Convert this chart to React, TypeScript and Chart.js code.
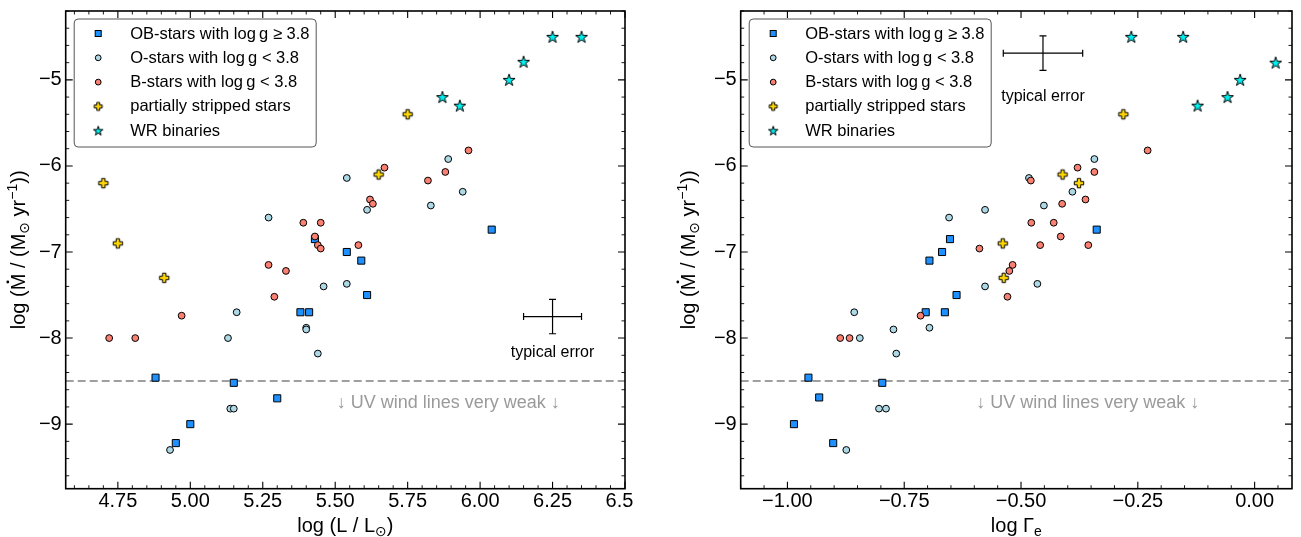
import React, { useEffect, useRef } from 'react';
import { Chart, registerables } from 'chart.js';

Chart.register(...registerables);

const FONT = '"Liberation Sans", "DejaVu Sans", Arial, sans-serif';

// ---------------- Left panel: log(L/Lsun) ----------------
const OB_LOGL = [4.88, 5.15, 5.30, 5.00, 4.95, 5.43, 5.38, 5.41, 5.54, 5.59, 5.61, 6.04];
const OB_MDOT_L = [-8.46, -8.52, -8.70, -9.00, -9.22, -6.85, -7.70, -7.70, -7.00, -7.10, -7.50, -6.74];
const O_LOGL = [4.93, 5.138, 5.15, 5.13, 5.16, 5.27, 5.40, 5.40, 5.44, 5.46, 5.54, 5.54, 5.61, 5.83, 5.89, 5.94];
const O_MDOT_L = [-9.30, -8.82, -8.82, -8.00, -7.70, -6.60, -7.88, -7.90, -8.18, -7.40, -7.37, -6.14, -6.51, -6.46, -5.92, -6.30];
const B_LOGL = [4.72, 4.81, 4.97, 5.27, 5.33, 5.29, 5.39, 5.45, 5.43, 5.44, 5.45, 5.58, 5.67, 5.62, 5.63, 5.82, 5.88, 5.96];
const B_MDOT_L = [-8.00, -8.00, -7.74, -7.15, -7.22, -7.52, -6.66, -6.66, -6.82, -6.92, -6.96, -6.92, -6.02, -6.39, -6.44, -6.17, -6.07, -5.82];
const PS_LOGL = [4.70, 4.75, 4.91, 5.65, 5.75];
const PS_MDOT_L = [-6.20, -6.90, -7.30, -6.10, -5.40];
const WR_LOGL = [6.25, 6.35, 6.15, 6.10, 5.87, 5.93];
const WR_MDOT_L = [-4.50, -4.50, -4.79, -5.00, -5.20, -5.30];

// ---------------- Right panel: log Gamma_e ----------------
const OB_LOGG = [-0.955, -0.932, -0.986, -0.902, -0.797, -0.704, -0.696, -0.669, -0.652, -0.663, -0.638, -0.338];
const OB_MDOT_R = [-8.46, -8.69, -9.00, -9.22, -8.52, -7.70, -7.10, -7.00, -6.85, -7.70, -7.50, -6.74];
const O_LOGG = [-0.874, -0.804, -0.789, -0.845, -0.857, -0.773, -0.767, -0.696, -0.654, -0.577, -0.577, -0.483, -0.390, -0.451, -0.343, -0.465];
const O_MDOT_R = [-9.30, -8.82, -8.82, -8.00, -7.70, -7.90, -8.18, -7.88, -6.60, -6.51, -7.40, -6.14, -6.30, -6.46, -5.92, -7.37];
const B_LOGG = [-0.887, -0.867, -0.715, -0.518, -0.525, -0.529, -0.478, -0.430, -0.415, -0.459, -0.356, -0.589, -0.379, -0.362, -0.412, -0.479, -0.343, -0.229];
const B_MDOT_R = [-8.00, -8.00, -7.74, -7.15, -7.22, -7.52, -6.66, -6.66, -6.82, -6.92, -6.92, -6.96, -6.02, -6.39, -6.44, -6.17, -6.07, -5.82];
const PS_LOGG = [-0.539, -0.537, -0.411, -0.376, -0.281];
const PS_MDOT_R = [-6.90, -7.30, -6.10, -6.20, -5.40];
const WR_LOGG = [-0.264, -0.153, 0.045, -0.031, -0.058, -0.122];
const WR_MDOT_R = [-4.50, -4.50, -4.80, -5.00, -5.20, -5.30];

// ---------------- Axes ----------------
const Y_RANGE = [-9.75, -4.2];
const Y_TICKS = [-9, -8, -7, -6, -5];
const X_RANGE_L = [4.57, 6.5];
const X_TICKS_L = [4.75, 5.0, 5.25, 5.5, 5.75, 6.0, 6.25, 6.5];
const X_RANGE_R = [-1.1, 0.08];
const X_TICKS_R = [-1.0, -0.75, -0.5, -0.25, 0.0];

const LEGEND_LABELS = [
  'OB-stars with log\u2009g \u2265 3.8',
  'O-stars with log\u2009g < 3.8',
  'B-stars with log\u2009g < 3.8',
  'partially stripped stars',
  'WR binaries',
];
const WEAK_LIMIT = -8.5;
const UV_TEXT = '\u2193 UV wind lines very weak \u2193';
const UV_Y = -8.75;
const UV_X_L = 5.89;
const UV_X_R = -0.357;
// typical error: [x, y, xerr, yerr, textY]
const ERR_L = [6.25, -7.75, 0.1, 0.2, -8.17];
const ERR_R = [-0.453, -4.69, 0.085, 0.2, -5.19];

const C_OB = '#1E90FF';
const C_O = '#ADD8E6';
const C_B = '#FA8072';
const C_PS = '#FFD700';
const C_WR = '#00F0F0';

function starPath(ctx: CanvasRenderingContext2D, cx: number, cy: number, R: number) {
  const r = R * 0.382;
  ctx.beginPath();
  for (let i = 0; i < 10; i++) {
    const a = -Math.PI / 2 + (i * Math.PI) / 5;
    const rr = i % 2 ? r : R;
    ctx.lineTo(cx + rr * Math.cos(a), cy + rr * Math.sin(a));
  }
  ctx.closePath();
}
function plusPath(ctx: CanvasRenderingContext2D, cx: number, cy: number, h: number, t: number) {
  const pts = [[-t, -h], [t, -h], [t, -t], [h, -t], [h, t], [t, t], [t, h], [-t, h], [-t, t], [-h, t], [-h, -t], [-t, -t]];
  ctx.beginPath();
  pts.forEach(([px, py], i) => (i ? ctx.lineTo(cx + px, cy + py) : ctx.moveTo(cx + px, cy + py)));
  ctx.closePath();
}
function makeMarker(kind: 'star' | 'plus', fill: string, s: number): HTMLCanvasElement {
  const c = document.createElement('canvas');
  const size = 18;
  c.width = size;
  c.height = size;
  const ctx = c.getContext('2d')!;
  if (kind === 'star') starPath(ctx, size / 2, size / 2 + 0.5 * s, 6.3 * s);
  else plusPath(ctx, size / 2, size / 2, 4.7 * s, 1.7 * s);
  ctx.fillStyle = fill;
  ctx.fill();
  ctx.lineWidth = 1;
  ctx.lineJoin = 'miter';
  ctx.strokeStyle = '#000';
  ctx.stroke();
  return c;
}

type Part = { t: string; k?: 'sub' | 'sup' | 'dot' };
function drawRich(ctx: CanvasRenderingContext2D, parts: Part[], fs: number) {
  const small = fs * 0.7;
  ctx.textAlign = 'left';
  ctx.textBaseline = 'alphabetic';
  const ws = parts.map((p) => {
    ctx.font = `${p.k === 'sub' || p.k === 'sup' ? small : fs}px ${FONT}`;
    return ctx.measureText(p.t).width;
  });
  const total = ws.reduce((a, b) => a + b, 0);
  let cx = -total / 2;
  parts.forEach((p, i) => {
    const sz = p.k === 'sub' || p.k === 'sup' ? small : fs;
    ctx.font = `${sz}px ${FONT}`;
    const dy = p.k === 'sub' ? fs * 0.22 : p.k === 'sup' ? -fs * 0.42 : 0;
    ctx.fillText(p.t, cx, dy);
    if (p.k === 'dot') {
      ctx.beginPath();
      ctx.arc(cx + ws[i] / 2, -fs * 0.86, fs * 0.07, 0, Math.PI * 2);
      ctx.fill();
    }
    cx += ws[i];
  });
}

const Y_TITLE: Part[] = [
  { t: 'log (' }, { t: 'M', k: 'dot' }, { t: ' / (M' }, { t: '\u2299', k: 'sub' }, { t: ' yr' }, { t: '\u22121', k: 'sup' }, { t: '))' },
];
const X_TITLE_L: Part[] = [{ t: 'log (L / L' }, { t: '\u2299', k: 'sub' }, { t: ')' }];
const X_TITLE_R: Part[] = [{ t: 'log \u0393' }, { t: 'e', k: 'sub' }];

type PanelCfg = {
  id: string;
  cl: number;
  cw: number;
  yAxisW: number;
  padRight: number;
  xRange: number[];
  xTicks: number[];
  xs: number[][];
  ys: number[][];
  uvX: number;
  err: number[];
  xTitle: Part[];
  yTitleX: number;
};

const fmt = (v: number, d: number) => (v < 0 ? '\u2212' : '') + Math.abs(v).toFixed(d);

function buildConfig(p: PanelCfg): any {
  const starImg = makeMarker('star', C_WR, 1);
  const plusImg = makeMarker('plus', C_PS, 1);
  const starLeg = makeMarker('star', C_WR, 0.78);
  const plusLeg = makeMarker('plus', C_PS, 0.85);
  const mk = (i: number) => p.xs[i].map((x, j) => ({ x, y: p.ys[i][j] }));
  const datasets = [
    { label: LEGEND_LABELS[4], data: mk(4), pointStyle: starImg, pointRadius: 7, backgroundColor: C_WR, borderColor: '#000', borderWidth: 1 },
    { label: LEGEND_LABELS[3], data: mk(3), pointStyle: plusImg, pointRadius: 6, backgroundColor: C_PS, borderColor: '#000', borderWidth: 1 },
    { label: LEGEND_LABELS[2], data: mk(2), pointStyle: 'circle', pointRadius: 3.4, backgroundColor: C_B, borderColor: '#000', borderWidth: 1 },
    { label: LEGEND_LABELS[1], data: mk(1), pointStyle: 'circle', pointRadius: 3.4, backgroundColor: C_O, borderColor: '#000', borderWidth: 1 },
    { label: LEGEND_LABELS[0], data: mk(0), pointStyle: 'rect', pointRadius: 5, backgroundColor: C_OB, borderColor: '#000', borderWidth: 1 },
  ];

  const overlay = {
    id: 'overlay-' + p.id,
    beforeDatasetsDraw(chart: any) {
      const { ctx, chartArea: a, scales } = chart;
      const x = scales.x, y = scales.y;
      ctx.save();
      ctx.strokeStyle = '#808080';
      ctx.lineWidth = 1.5;
      ctx.setLineDash([8, 4]);
      const yy = y.getPixelForValue(WEAK_LIMIT);
      ctx.beginPath();
      ctx.moveTo(a.left, yy);
      ctx.lineTo(a.right, yy);
      ctx.stroke();
      ctx.setLineDash([]);
      ctx.fillStyle = '#9a9a9a';
      ctx.font = `18px ${FONT}`;
      ctx.textAlign = 'center';
      ctx.textBaseline = 'middle';
      ctx.fillText(UV_TEXT, x.getPixelForValue(p.uvX), y.getPixelForValue(UV_Y));
      ctx.restore();
    },
    afterDraw(chart: any) {
      const { ctx, chartArea: a, scales } = chart;
      const x = scales.x, y = scales.y;
      ctx.save();
      ctx.strokeStyle = '#000';
      const near = (v: number, arr: number[]) => arr.some((t) => Math.abs(t - v) < 1e-6);
      const drawX = (v: number, len: number, lw: number) => {
        const px = x.getPixelForValue(v);
        ctx.lineWidth = lw;
        ctx.beginPath();
        ctx.moveTo(px, a.bottom);
        ctx.lineTo(px, a.bottom - len);
        ctx.moveTo(px, a.top);
        ctx.lineTo(px, a.top + len);
        ctx.stroke();
      };
      const drawY = (v: number, len: number, lw: number) => {
        const py = y.getPixelForValue(v);
        ctx.lineWidth = lw;
        ctx.beginPath();
        ctx.moveTo(a.left, py);
        ctx.lineTo(a.left + len, py);
        ctx.moveTo(a.right, py);
        ctx.lineTo(a.right - len, py);
        ctx.stroke();
      };
      for (let k = Math.ceil(p.xRange[0] / 0.05 - 1e-6); k <= Math.floor(p.xRange[1] / 0.05 + 1e-6); k++) {
        const v = k * 0.05;
        if (!near(v, p.xTicks)) drawX(v, 3.5, 0.9);
      }
      p.xTicks.forEach((v) => drawX(v, 7, 1.1));
      for (let k = Math.ceil(Y_RANGE[0] / 0.2 - 1e-6); k <= Math.floor(Y_RANGE[1] / 0.2 + 1e-6); k++) {
        const v = k * 0.2;
        if (!near(v, Y_TICKS)) drawY(v, 3.5, 0.9);
      }
      Y_TICKS.forEach((v) => drawY(v, 7, 1.1));
      ctx.lineWidth = 1.6;
      ctx.strokeRect(a.left, a.top, a.right - a.left, a.bottom - a.top);

      // typical error
      const [ex, ey, dx, dy, ty] = p.err;
      const cx = x.getPixelForValue(ex), cy = y.getPixelForValue(ey);
      const x0 = x.getPixelForValue(ex - dx), x1 = x.getPixelForValue(ex + dx);
      const y0 = y.getPixelForValue(ey + dy), y1 = y.getPixelForValue(ey - dy);
      ctx.lineWidth = 1.2;
      ctx.beginPath();
      ctx.moveTo(x0, cy); ctx.lineTo(x1, cy);
      ctx.moveTo(cx, y0); ctx.lineTo(cx, y1);
      ctx.moveTo(x0, cy - 3.5); ctx.lineTo(x0, cy + 3.5);
      ctx.moveTo(x1, cy - 3.5); ctx.lineTo(x1, cy + 3.5);
      ctx.moveTo(cx - 3.5, y0); ctx.lineTo(cx + 3.5, y0);
      ctx.moveTo(cx - 3.5, y1); ctx.lineTo(cx + 3.5, y1);
      ctx.stroke();
      ctx.fillStyle = '#000';
      ctx.font = `16px ${FONT}`;
      ctx.textAlign = 'center';
      ctx.textBaseline = 'middle';
      ctx.fillText('typical error', cx, y.getPixelForValue(ty));

      // legend
      const bx = a.left + 8.5, by = a.top + 8, bw = 242, bh = 128;
      ctx.beginPath();
      ctx.roundRect(bx, by, bw, bh, 4);
      ctx.fillStyle = 'rgba(255,255,255,0.9)';
      ctx.fill();
      ctx.strokeStyle = '#555';
      ctx.lineWidth = 1;
      ctx.stroke();
      const mx = bx + 24, tx = bx + 56;
      ctx.font = `16.5px ${FONT}`;
      ctx.textAlign = 'left';
      ctx.textBaseline = 'middle';
      LEGEND_LABELS.forEach((lab, i) => {
        const ry = by + 14.5 + i * 24.3;
        ctx.strokeStyle = '#000';
        ctx.lineWidth = 1;
        if (i === 0) {
          ctx.fillStyle = C_OB;
          ctx.fillRect(mx - 3, ry - 3, 6, 6);
          ctx.strokeRect(mx - 3, ry - 3, 6, 6);
        } else if (i === 1 || i === 2) {
          ctx.beginPath();
          ctx.arc(mx, ry, 2.9, 0, Math.PI * 2);
          ctx.fillStyle = i === 1 ? C_O : C_B;
          ctx.fill();
          ctx.stroke();
        } else {
          const img = i === 3 ? plusLeg : starLeg;
          ctx.drawImage(img, mx - img.width / 2, ry - img.height / 2);
        }
        ctx.fillStyle = '#000';
        ctx.fillText(lab, tx, ry + 0.5);
      });

      // axis titles
      ctx.fillStyle = '#000';
      ctx.save();
      ctx.translate((a.left + a.right) / 2, 525 + 7);
      drawRich(ctx, p.xTitle, 20);
      ctx.restore();
      ctx.save();
      ctx.translate(p.yTitleX, (a.top + a.bottom) / 2);
      ctx.rotate(-Math.PI / 2);
      ctx.translate(0, 7);
      drawRich(ctx, Y_TITLE, 20);
      ctx.restore();
      ctx.restore();
    },
  };

  return {
    type: 'scatter',
    data: { datasets },
    options: {
      responsive: false,
      maintainAspectRatio: false,
      animation: false,
      devicePixelRatio: 1,
      layout: { padding: { left: 0, right: p.padRight, top: 11, bottom: 0 } },
      plugins: { legend: { display: false }, tooltip: { enabled: false } },
      scales: {
        x: {
          type: 'linear',
          min: p.xRange[0],
          max: p.xRange[1],
          grid: { display: false, drawTicks: false },
          border: { display: false },
          ticks: {
            font: { family: FONT, size: 20 },
            color: '#000',
            padding: 1,
            maxRotation: 0,
            autoSkip: false,
            callback: (v: number) => fmt(v, 2),
          },
          afterBuildTicks: (s: any) => {
            s.ticks = p.xTicks.map((v) => ({ value: v }));
          },
          afterFit: (s: any) => {
            s.height = 48.3;
            s.paddingLeft = 0;
            s.paddingRight = 0;
          },
        },
        y: {
          type: 'linear',
          min: Y_RANGE[0],
          max: Y_RANGE[1],
          grid: { display: false, drawTicks: false },
          border: { display: false },
          ticks: {
            font: { family: FONT, size: 20 },
            color: '#000',
            padding: 4,
            autoSkip: false,
            callback: (v: number) => fmt(v, 0),
          },
          afterBuildTicks: (s: any) => {
            s.ticks = Y_TICKS.map((v) => ({ value: v }));
          },
          afterFit: (s: any) => {
            s.width = p.yAxisW;
            s.paddingTop = 0;
            s.paddingBottom = 0;
          },
        },
      },
    },
    plugins: [overlay],
  };
}

const LEFT: PanelCfg = {
  id: 'L',
  cl: 0,
  cw: 633,
  yAxisW: 65.7,
  padRight: 7.3,
  xRange: X_RANGE_L,
  xTicks: X_TICKS_L,
  xs: [OB_LOGL, O_LOGL, B_LOGL, PS_LOGL, WR_LOGL],
  ys: [OB_MDOT_L, O_MDOT_L, B_MDOT_L, PS_MDOT_L, WR_MDOT_L],
  uvX: UV_X_L,
  err: ERR_L,
  xTitle: X_TITLE_L,
  yTitleX: 18,
};
const RIGHT: PanelCfg = {
  id: 'R',
  cl: 640,
  cw: 661,
  yAxisW: 100.7,
  padRight: 9,
  xRange: X_RANGE_R,
  xTicks: X_TICKS_R,
  xs: [OB_LOGG, O_LOGG, B_LOGG, PS_LOGG, WR_LOGG],
  ys: [OB_MDOT_R, O_MDOT_R, B_MDOT_R, PS_MDOT_R, WR_MDOT_R],
  uvX: UV_X_R,
  err: ERR_R,
  xTitle: X_TITLE_R,
  yTitleX: 48,
};

function Panel({ cfg }: { cfg: PanelCfg }) {
  const ref = useRef<HTMLCanvasElement>(null);
  useEffect(() => {
    const chart = new Chart(ref.current!, buildConfig(cfg));
    return () => chart.destroy();
  }, [cfg]);
  return (
    <canvas
      ref={ref}
      width={cfg.cw}
      height={537}
      style={{ position: 'absolute', left: cfg.cl, top: 0, width: cfg.cw, height: 537 }}
    />
  );
}

export default function App() {
  return (
    <div style={{ position: 'fixed', left: 0, top: 0, width: 1301, height: 537, background: '#fff' }}>
      <Panel cfg={LEFT} />
      <Panel cfg={RIGHT} />
    </div>
  );
}
